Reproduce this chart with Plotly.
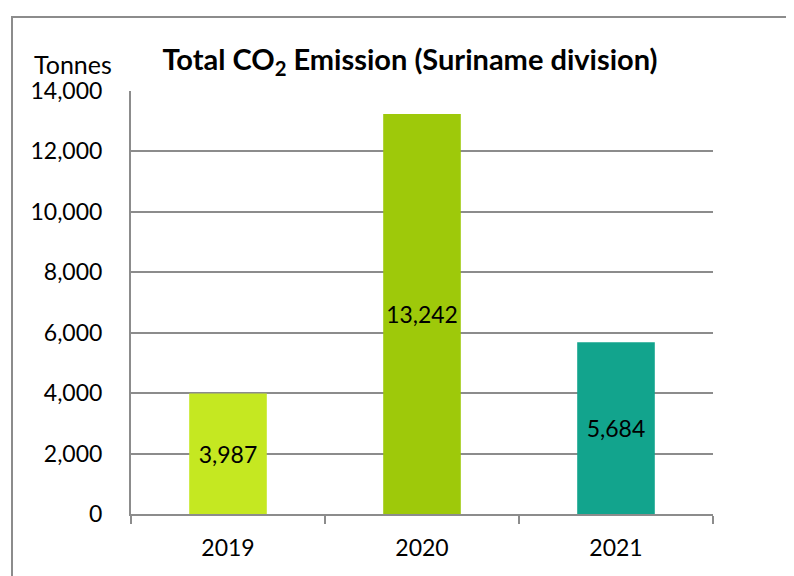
import plotly.graph_objects as go

years = ["2019", "2020", "2021"]
emissions = [3987, 13242, 5684]
bar_colors = ["#C5E821", "#9EC90A", "#12A48D"]
y_ticks = [0, 2000, 4000, 6000, 8000, 10000, 12000, 14000]

W, H = 794, 576
OFF = 8  # page body margin offset
L, R, T, B = 131, 713, 91, 514  # plot area in page pixels

FONT = "Lato"
GRAY = "#8c8c8c"

fig = go.Figure()
fig.add_trace(go.Bar(
    x=years, y=emissions,
    marker=dict(color=bar_colors, line=dict(width=0)),
    width=0.4,
    text=[f"{v:,}" for v in emissions],
    textposition="inside",
    insidetextanchor="middle",
    textangle=0,
    textfont=dict(family=FONT, size=23, color="black"),
    cliponaxis=False,
    hoverinfo="skip",
))

def px(x):
    return (x - L) / (R - L)

def py(y):
    return (B - y) / (B - T)

fig.update_layout(
    width=W, height=H,
    margin=dict(l=L - OFF, r=W - (R - OFF), t=T - OFF, b=H - (B - OFF), pad=0),
    paper_bgcolor="white", plot_bgcolor="white",
    showlegend=False,
    font=dict(family=FONT, size=23, color="black"),
    title=dict(
        text="<b>Total CO<sub>2</sub> Emission (Suriname division)</b>",
        x=(410 - OFF) / W, xanchor="center", xref="container",
        y=1 - (60 - OFF) / H, yanchor="middle", yref="container",
        font=dict(family=FONT, size=29, color="black"),
    ),
    bargap=0.6,
)

fig.update_xaxes(
    type="category",
    range=[-0.5, 2.5],
    showgrid=False,
    showline=True, linecolor=GRAY, linewidth=2,
    ticks="outside", tickson="boundaries", ticklen=8, tickcolor=GRAY, tickwidth=2,
    tickfont=dict(family=FONT, size=23, color="black"),
    ticklabelstandoff=12,
    fixedrange=True,
)
fig.update_yaxes(
    range=[0, 14000],
    tickvals=y_ticks,
    ticktext=[f"{v:,}" for v in y_ticks],
    showgrid=True, gridcolor=GRAY, gridwidth=1.5,
    showline=True, linecolor=GRAY, linewidth=2,
    zeroline=False,
    ticks="",
    tickfont=dict(family=FONT, size=23, color="black"),
    ticklabelstandoff=22,
    fixedrange=True,
)

# "Tonnes" unit label
fig.add_annotation(
    text="Tonnes", xref="paper", yref="paper",
    x=px(73), y=py(64), xanchor="center", yanchor="middle",
    showarrow=False, font=dict(family=FONT, size=25, color="black"),
)

# outer chart frame (extends beyond the visible page on right/bottom)
fig.add_shape(
    type="rect", xref="paper", yref="paper",
    x0=px(12), y0=py(600), x1=px(820), y1=py(17),
    line=dict(color=GRAY, width=2), fillcolor="rgba(0,0,0,0)",
    layer="below",
)

fig.write_html("out.html")
